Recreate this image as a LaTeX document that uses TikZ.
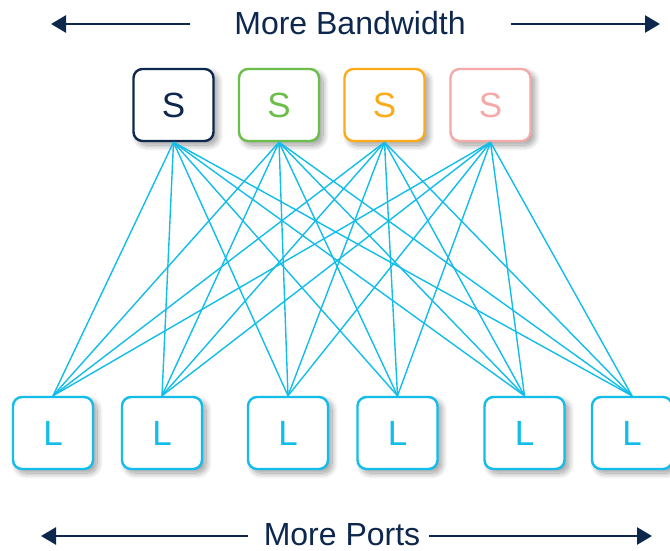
\documentclass[tikz,border=0pt]{standalone}
\usepackage{fontspec}
\setmainfont{Liberation Sans}
\usetikzlibrary{arrows.meta,shadows.blur}
\definecolor{navy}{HTML}{0D274D}
\definecolor{sgreen}{HTML}{6CBE4A}
\definecolor{sorange}{HTML}{FBAB18}
\definecolor{spink}{HTML}{F4AAA6}
\definecolor{scyan}{HTML}{12BDE9}
\begin{document}
\begin{tikzpicture}[x=1pt,y=-1pt,
  box/.style={draw, line width=2.4pt, rounded corners=9pt, fill=white,
    minimum width=80pt, minimum height=72pt, inner sep=0pt,
    font=\fontsize{35}{35}\selectfont,
    blur shadow={shadow xshift=4pt, shadow yshift=-4pt, shadow opacity=40,
      shadow blur radius=6pt, shadow blur steps=12}},
  spine/.style={box, draw=#1, text=#1},
  leaf/.style={box, draw=scyan, text=scyan},
  link/.style={draw=scyan, line width=1.4pt},
  dir/.style={draw=navy, line width=2.6pt, -{Triangle[length=15pt,width=17pt]}},
  caption/.style={text=navy, font=\fontsize{32}{32}\selectfont, inner sep=0pt, anchor=base}]
\useasboundingbox (0,0) rectangle (670,551);

% top caption with arrows
\node[caption] (bw) at (350,35) {More Bandwidth};
\coordinate (bwLa) at (190,24);
\coordinate (bwLb) at (51,24);
\coordinate (bwRa) at (511,24);
\coordinate (bwRb) at (660,24);
\draw[dir] (bwLa) -- (bwLb);
\draw[dir] (bwRa) -- (bwRb);

% bottom caption with arrows
\node[caption] (mp) at (342,545) {More Ports};
\coordinate (mpLa) at (248,536);
\coordinate (mpLb) at (41,536);
\coordinate (mpRa) at (429,536);
\coordinate (mpRb) at (652,536);
\draw[dir] (mpLa) -- (mpLb);
\draw[dir] (mpRa) -- (mpRb);

% spine switches
\node[spine=navy]    (s1) at (173.5,105) {S};
\node[spine=sgreen]  (s2) at (279,105)   {S};
\node[spine=sorange] (s3) at (384.5,105) {S};
\node[spine=spink]   (s4) at (490.5,105) {S};

% leaf switches
\node[leaf] (l1) at (53,433)    {L};
\node[leaf] (l2) at (162,433)   {L};
\node[leaf] (l3) at (288,433)   {L};
\node[leaf] (l4) at (397.5,433) {L};
\node[leaf] (l5) at (524.5,433) {L};
\node[leaf] (l6) at (632,433)   {L};

% full mesh between spine and leaf
\foreach \s in {s1,s2,s3,s4}
  \foreach \l in {l1,l2,l3,l4,l5,l6}
    \draw[link] (\s.south) -- (\l.north);
\end{tikzpicture}
\end{document}
